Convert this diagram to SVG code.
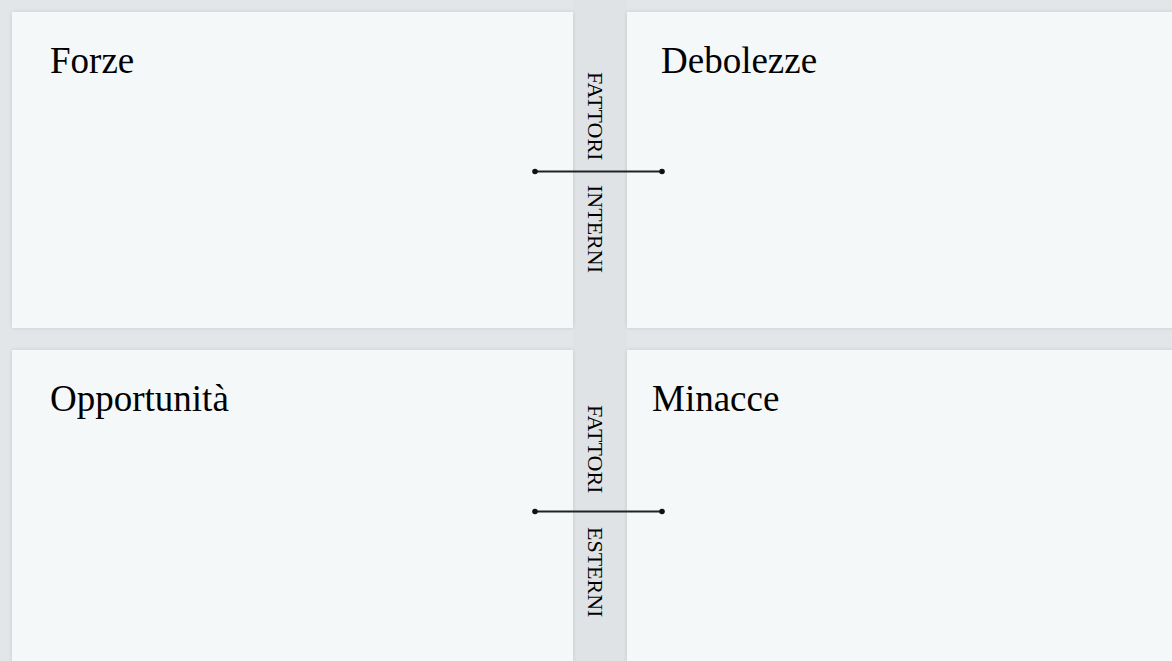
<svg xmlns="http://www.w3.org/2000/svg" width="1172" height="661" viewBox="0 0 1172 661">
<style>
.panel{fill:#f5f8f8;}
.title{font-family:"Liberation Serif","Times New Roman",serif;font-size:37px;fill:#000;}
.vlabel{font-family:"Liberation Serif","Times New Roman",serif;font-size:22px;fill:#000;}
.conn{stroke:#222;stroke-width:2;fill:none;}
.dot{fill:#111;}
</style>
<defs>
<filter id="sh" x="-5%" y="-5%" width="110%" height="110%">
<feGaussianBlur in="SourceAlpha" stdDeviation="2"/>
<feOffset dx="0" dy="0"/>
<feComponentTransfer><feFuncA type="linear" slope="0.12"/></feComponentTransfer>
<feMerge><feMergeNode/><feMergeNode in="SourceGraphic"/></feMerge>
</filter>
</defs>
<rect x="0" y="0" width="1172" height="661" fill="#e3e6e9"/>
<rect x="573" y="0" width="54" height="661" fill="#e0e3e6"/>
<g id="forze">
<rect class="panel" x="12" y="12" width="561" height="316" filter="url(#sh)"/>
<text class="title" x="50" y="73">Forze</text>
</g>
<g id="debolezze">
<rect class="panel" x="627" y="12" width="560" height="316" filter="url(#sh)"/>
<text class="title" x="661" y="73">Debolezze</text>
</g>
<g id="opportunita">
<rect class="panel" x="12" y="350" width="561" height="320" filter="url(#sh)"/>
<text class="title" x="50" y="411">Opportunità</text>
</g>
<g id="minacce">
<rect class="panel" x="627" y="350" width="560" height="320" filter="url(#sh)"/>
<text class="title" x="652" y="411">Minacce</text>
</g>
<g id="interni">
<text class="vlabel" transform="translate(588,72) rotate(90)">FATTORI</text>
<text class="vlabel" transform="translate(588,185) rotate(90)">INTERNI</text>
</g>
<g id="esterni">
<text class="vlabel" transform="translate(588,405) rotate(90)">FATTORI</text>
<text class="vlabel" transform="translate(588,527) rotate(90)">ESTERNI</text>
</g>
<g id="connectors">
<line class="conn" x1="535" y1="171.5" x2="662" y2="171.5"/>
<circle class="dot" cx="535" cy="171.5" r="2.8"/>
<circle class="dot" cx="662" cy="171.5" r="2.8"/>
<line class="conn" x1="535" y1="511.5" x2="662" y2="511.5"/>
<circle class="dot" cx="535" cy="511.5" r="2.8"/>
<circle class="dot" cx="662" cy="511.5" r="2.8"/>
</g>
</svg>
